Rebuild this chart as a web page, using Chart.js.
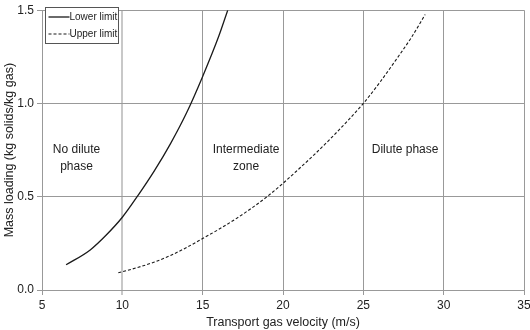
<!DOCTYPE html>
<html>
<head>
<meta charset="utf-8">
<script src="https://cdn.jsdelivr.net/npm/chart.js@4"></script>
<style>
  body { margin: 0; background: #fff; }
  #wrap { width: 530px; height: 330px; }
</style>
</head>
<body>
<div id="wrap"><canvas id="myChart" width="530" height="330"></canvas></div>
<script>
// values
var lowerX = [6.5, 8, 9, 10, 11, 12, 13, 14, 15, 16, 16.56];
var lowerY = [0.135, 0.215, 0.295, 0.39, 0.51, 0.64, 0.785, 0.95, 1.145, 1.36, 1.5];

var upperX = [9.75, 11, 12, 13, 14, 15, 16, 17, 18, 19, 20, 21, 22, 23, 24, 25, 26, 27, 28, 28.85];
var upperY = [0.092, 0.122, 0.15, 0.185, 0.228, 0.276, 0.325, 0.378, 0.436, 0.50, 0.572, 0.65, 0.73, 0.815, 0.905, 1.0, 1.11, 1.23, 1.355, 1.477];

var seriesNames = ['Lower limit', 'Upper limit'];
var xTicks = [5, 10, 15, 20, 25, 30, 35];
var yTicks = [0.0, 0.5, 1.0, 1.5];
var zoneLabels = [['No dilute', 'phase'], ['Intermediate', 'zone'], ['Dilute phase']];
var zoneX = [7.15, 17.7, 27.6];

function pairs(xs, ys) {
    var out = [];
    for (var i = 0; i < xs.length; i++) out.push({x: xs[i], y: ys[i]});
    return out;
}

var font = '"Liberation Sans", Arial, sans-serif';

// legend box and zone labels drawn inside the plot
var extras = {
    id: 'extras',
    afterDatasetsDraw: function(chart) {
        var ctx = chart.ctx;
        var xs = chart.scales.x, ys = chart.scales.y;
        ctx.save();
        ctx.fillStyle = '#222';
        ctx.font = '12px ' + font;
        ctx.textAlign = 'center';
        ctx.textBaseline = 'middle';
        for (var i = 0; i < zoneLabels.length; i++) {
            var px = xs.getPixelForValue(zoneX[i]);
            var lines = zoneLabels[i];
            var top = ys.getPixelForValue(0.75);
            for (var j = 0; j < lines.length; j++) {
                ctx.fillText(lines[j], px, top + j * 17);
            }
        }

        // legend
        var bx = 45.5, by = 7.5, bw = 73, bh = 36;
        ctx.fillStyle = '#fff';
        ctx.fillRect(bx, by, bw, bh);
        ctx.strokeStyle = '#555';
        ctx.lineWidth = 1;
        ctx.strokeRect(bx, by, bw, bh);
        ctx.font = '10px ' + font;
        ctx.textAlign = 'left';
        ctx.fillStyle = '#222';
        var rows = [by + 9.5, by + 26.5];
        for (var k = 0; k < seriesNames.length; k++) {
            var ds = chart.data.datasets[k];
            ctx.beginPath();
            ctx.strokeStyle = ds.borderColor;
            ctx.lineWidth = ds.borderWidth;
            ctx.setLineDash(ds.borderDash || []);
            ctx.moveTo(bx + 3, rows[k]);
            ctx.lineTo(bx + 24, rows[k]);
            ctx.stroke();
            ctx.setLineDash([]);
            ctx.fillText(seriesNames[k], bx + 24, rows[k]);
        }
        ctx.restore();
    }
};

var gridColor = function(c) {
    if (c.tick && c.tick.value === 10 && c.scale.axis === 'x') return '#c8c8c8';
    return '#999';
};
var gridWidth = function(c) {
    if (c.tick && c.tick.value === 10 && c.scale.axis === 'x') return 2;
    return 1;
};

const data = {
    datasets: [{
        label: seriesNames[0],
        data: pairs(lowerX, lowerY),
        borderColor: '#1a1a1a',
        borderWidth: 1.3,
        pointRadius: 0,
        cubicInterpolationMode: 'monotone',
        fill: false
    }, {
        label: seriesNames[1],
        data: pairs(upperX, upperY),
        borderColor: '#1a1a1a',
        borderWidth: 1.1,
        borderDash: [3, 2],
        pointRadius: 0,
        cubicInterpolationMode: 'monotone',
        fill: false
    }]
};

const config = {
    type: 'line',
    data: data,
    plugins: [extras],
    options: {
        responsive: false,
        animation: false,
        layout: { padding: { top: 5, right: 6, left: 2, bottom: 0 } },
        plugins: { legend: { display: false }, tooltip: { enabled: false } },
        scales: {
            x: {
                type: 'linear',
                min: xTicks[0],
                max: xTicks[xTicks.length - 1],
                afterBuildTicks: function(s) { s.ticks = xTicks.map(function(v) { return {value: v}; }); },
                afterFit: function(s) { s.height = 40; s.paddingRight = 0; s.paddingLeft = 0; },
                grid: { color: gridColor, lineWidth: gridWidth, tickLength: 5 },
                border: { color: '#999' },
                ticks: { color: '#222', font: { family: font, size: 12 }, padding: 3, maxRotation: 0 },
                title: { display: true, text: 'Transport gas velocity (m/s)', color: '#222',
                         font: { family: font, size: 12.5 }, padding: { top: 0, bottom: 0 } }
            },
            y: {
                type: 'linear',
                min: yTicks[0],
                max: yTicks[yTicks.length - 1],
                afterBuildTicks: function(s) { s.ticks = yTicks.map(function(v) { return {value: v}; }); },
                afterFit: function(s) { s.width = 40; },
                grid: { color: gridColor, lineWidth: gridWidth, tickLength: 5 },
                border: { color: '#999' },
                ticks: { color: '#222', font: { family: font, size: 12 }, padding: 3,
                         callback: function(v) { return Number(v).toFixed(1); } },
                title: { display: true, text: 'Mass loading (kg solids/kg gas)', color: '#222',
                         font: { family: font, size: 12.5 }, padding: { top: 0, bottom: 0 } }
            }
        }
    }
};

const myChart = new Chart(document.getElementById('myChart'), config);
</script>
</body>
</html>
